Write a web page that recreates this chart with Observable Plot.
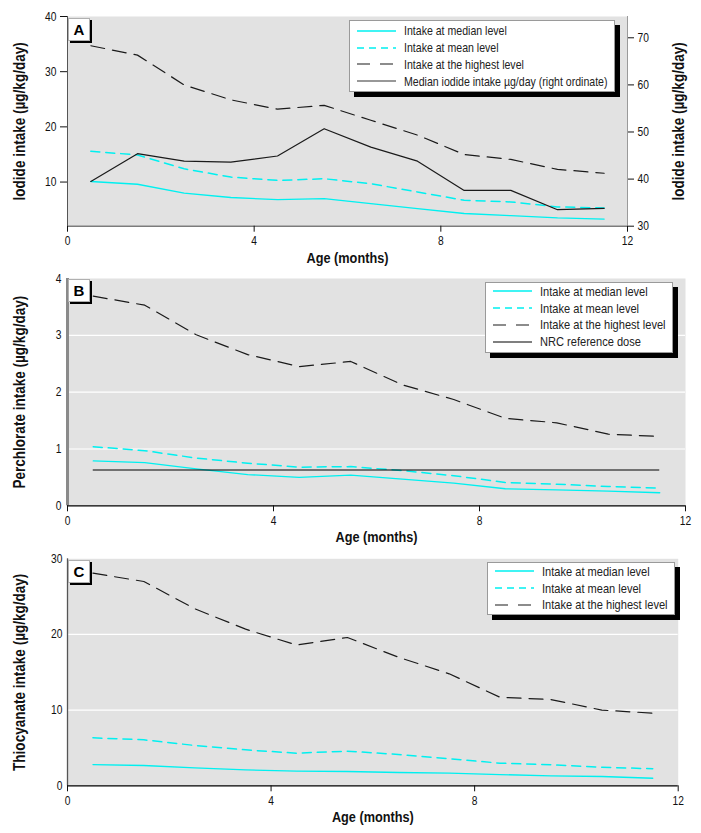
<!DOCTYPE html>
<html>
<head>
<meta charset="utf-8">
<script src="https://cdn.jsdelivr.net/npm/d3@7"></script>
<script src="https://cdn.jsdelivr.net/npm/@observablehq/plot@0.6"></script>
<style>
  body { margin: 0; background: #fff; }
  #chart { position: relative; width: 701px; height: 833px; overflow: hidden; }
  #chart svg.panel { position: absolute; left: 0; overflow: visible; }
  .legend { position: absolute; background: #fff; border: 1px solid #9a9a9a; box-shadow: 5px 5px 0 #000;
    font-size: 13.5px; color: #222; box-sizing: border-box; }
  .legend .row { display: flex; align-items: center; height: 16.8px; white-space: nowrap; }
  .legend .row svg { margin-left: 7px; margin-right: 8px; flex: none; }
  .legend .row span { display: inline-block; transform-origin: 0 50%; flex: none; }
  .tag { position: absolute; width: 22px; height: 23px; background: #fff; border: 1px solid #b0b0b0;
    box-shadow: 2px 2px 0 #000; font-weight: bold; font-size: 15px; display: flex; align-items: center;
    justify-content: center; box-sizing: border-box; color: #000; }
</style>
</head>
<body>
<div id="chart"></div>
<script>
// ---------- data ----------
const months = [0.5, 1.5, 2.5, 3.5, 4.5, 5.5, 6.5, 7.5, 8.5, 9.5, 10.5, 11.5];
const xTicks = [0, 4, 8, 12];

// Panel A: iodide (µg/kg/day, left ordinate) and µg/day (right ordinate)
const iodideMedian  = [10.1, 9.6, 8.0, 7.2, 6.8, 7.0, 6.1, 5.2, 4.3, 3.9, 3.5, 3.3];
const iodideMean    = [15.6, 14.9, 12.4, 10.9, 10.3, 10.6, 9.7, 8.2, 6.7, 6.4, 5.5, 5.3];
const iodideHighest = [34.7, 33.0, 27.6, 24.9, 23.2, 23.9, 21.2, 18.5, 15.0, 14.1, 12.3, 11.6];
const iodideDaily   = [39.5, 45.4, 43.8, 43.6, 44.9, 50.7, 46.8, 43.8, 37.6, 37.6, 33.5, 33.8];
const iodideLeftTicks  = [10, 20, 30, 40];
const iodideRightTicks = [30, 40, 50, 60, 70];

// Panel B: perchlorate (µg/kg/day)
const perchlorateMedian  = [0.79, 0.76, 0.65, 0.55, 0.50, 0.54, 0.47, 0.40, 0.30, 0.28, 0.26, 0.23];
const perchlorateMean    = [1.04, 0.97, 0.84, 0.75, 0.68, 0.69, 0.62, 0.53, 0.41, 0.38, 0.34, 0.31];
const perchlorateHighest = [3.69, 3.53, 3.01, 2.66, 2.45, 2.54, 2.13, 1.87, 1.54, 1.46, 1.26, 1.22];
const nrcDose = 0.63;
const perchlorateTicks = [0, 1, 2, 3, 4];
const perchlorateGrid = [1, 2, 3];

// Panel C: thiocyanate (µg/kg/day)
const thioMedian  = [2.81, 2.68, 2.38, 2.11, 1.93, 1.89, 1.76, 1.67, 1.49, 1.32, 1.23, 1.00];
const thioMean    = [6.34, 6.08, 5.33, 4.75, 4.31, 4.58, 4.14, 3.57, 2.99, 2.77, 2.46, 2.25];
const thioHighest = [28.1, 27.0, 23.4, 20.7, 18.6, 19.6, 17.0, 14.8, 11.7, 11.4, 10.0, 9.6];
const thioTicks = [0, 10, 20, 30];
const thioGrid = [10, 20];

const legendLabels = ["Intake at median level", "Intake at mean level", "Intake at the highest level"];

// ---------- font detection (condensed look) ----------
const probe = document.createElement("canvas").getContext("2d");
probe.font = "20px 'Liberation Sans Narrow', monospace";
const wNarrow = probe.measureText("Intake at median level").width;
probe.font = "20px monospace";
const wMono = probe.measureText("Intake at median level").width;
const hasNarrow = Math.abs(wNarrow - wMono) > 1;
const FONT = hasNarrow ? '"Liberation Sans Narrow", sans-serif' : '"Liberation Sans", Arial, sans-serif';
const SQUEEZE = hasNarrow ? 1 : 0.82;
document.getElementById("chart").style.fontFamily = FONT;

// ---------- styles ----------
const CYAN = "#00f0f0";
const BG = "#e2e2e2";
const sMedian  = {stroke: CYAN, strokeWidth: 1.3};
const sMean    = {stroke: CYAN, strokeWidth: 1.5, strokeDasharray: "9,6"};
const sHighest = {stroke: "#1a1a1a", strokeWidth: 1.2, strokeDasharray: "14,8"};
const sBlack   = {stroke: "#1a1a1a", strokeWidth: 1.2};

const table = arr => months.map((month, i) => ({month, value: arr[i]}));
const line = (arr, style, yf) => Plot.line(table(arr), {x: "month", y: yf || "value", ...style});

const chart = document.getElementById("chart");

function titles(ylabel) {
  return [
    Plot.text(["Age (months)"], {text: d => d, frameAnchor: "bottom", textAnchor: "middle", lineAnchor: "middle",
      dy: 31.5, fontWeight: "bold", fontSize: 15.5}),
    Plot.text([ylabel], {text: d => d, frameAnchor: "left", textAnchor: "middle", lineAnchor: "middle",
      rotate: -90, dx: -48, fontWeight: "bold", fontSize: 16.5})
  ];
}

function place(svg, top) {
  svg.classList.add("panel");
  svg.style.top = top + "px";
  chart.appendChild(svg);
  if (SQUEEZE !== 1) {
    svg.querySelectorAll("text").forEach(t => {
      const w = t.getComputedTextLength();
      if (w > 0) {
        t.setAttribute("textLength", (w * SQUEEZE).toFixed(2));
        t.setAttribute("lengthAdjust", "spacingAndGlyphs");
      }
    });
  }
}

const baseStyle = {fontFamily: FONT, fontSize: "12.5px", color: "#111", background: "transparent", overflow: "visible"};
const intFmt = d => String(Math.round(d));

// ---------- Panel A ----------
const aMin = 2, aMax = 40, rMin = 30, rMax = 74.52;
const toLeft = v => aMin + (v - rMin) * (aMax - aMin) / (rMax - rMin);
const fromLeft = v => rMin + (v - aMin) * (rMax - rMin) / (aMax - aMin);

const plotA = Plot.plot({
  width: 701, height: 270,
  marginTop: 16, marginBottom: 44.3, marginLeft: 67, marginRight: 74,
  style: baseStyle,
  x: {domain: [0, 12]},
  y: {domain: [aMin, aMax]},
  marks: [
    Plot.frame({fill: BG, stroke: "none"}),
    Plot.ruleX([0], {stroke: "#555"}),
    Plot.ruleX([12], {stroke: "#9a9a9a"}),
    Plot.ruleY([aMin], {stroke: "#444"}),
    line(iodideMedian, sMedian),
    line(iodideMean, sMean),
    line(iodideHighest, sHighest),
    line(iodideDaily, sBlack, d => toLeft(d.value)),
    Plot.axisX(xTicks, {tickSize: 6, tickPadding: 4, label: null, tickFormat: intFmt}),
    Plot.axisY(iodideLeftTicks, {tickSize: 7, tickPadding: 4, label: null, tickFormat: intFmt}),
    Plot.axisY(iodideRightTicks.map(toLeft), {anchor: "right", tickSize: 6, tickPadding: 4, label: null,
      tickFormat: d => Math.round(fromLeft(d))}),
    ...titles("Iodide intake (µg/kg/day)"),
    Plot.text(["Iodide intake (µg/kg/day)"], {text: d => d, frameAnchor: "right", textAnchor: "middle",
      lineAnchor: "middle", rotate: -90, dx: 51, fontWeight: "bold", fontSize: 16.5})
  ]
});
place(plotA, 0);

// ---------- Panel B ----------
const plotB = Plot.plot({
  width: 701, height: 280,
  marginTop: 8, marginBottom: 44.7, marginLeft: 67, marginRight: 16,
  style: baseStyle,
  x: {domain: [0, 12]},
  y: {domain: [0, 4]},
  marks: [
    Plot.frame({fill: BG, stroke: "none"}),
    Plot.ruleY(perchlorateGrid, {stroke: "#fff", strokeWidth: 1.2}),
    Plot.ruleX([0], {stroke: "#8a8a8a", strokeWidth: 3}),
    Plot.ruleY([0], {stroke: "#000", strokeWidth: 1.2}),
    line(perchlorateMedian, sMedian),
    line(perchlorateMean, sMean),
    line(perchlorateHighest, sHighest),
    Plot.ruleY([nrcDose], {x1: months[0], x2: months[months.length - 1], stroke: "#000", strokeWidth: 1.2}),
    Plot.axisX(xTicks, {tickSize: 6, tickPadding: 4, label: null, tickFormat: intFmt}),
    Plot.axisY(perchlorateTicks, {tickSize: 0, tickPadding: 6, label: null, tickFormat: intFmt}),
    ...titles("Perchlorate intake (µg/kg/day)")
  ]
});
place(plotB, 270);

// ---------- Panel C ----------
const plotC = Plot.plot({
  width: 701, height: 283,
  marginTop: 8.3, marginBottom: 47.7, marginLeft: 67, marginRight: 23.3,
  style: baseStyle,
  x: {domain: [0, 12]},
  y: {domain: [0, 30]},
  marks: [
    Plot.frame({fill: BG, stroke: "none"}),
    Plot.ruleY(thioGrid, {stroke: "#fff", strokeWidth: 1.2}),
    Plot.ruleX([0], {stroke: "#555", strokeWidth: 1.3}),
    Plot.ruleY([0], {stroke: "#000", strokeWidth: 1.2}),
    line(thioMedian, sMedian),
    line(thioMean, sMean),
    line(thioHighest, sHighest),
    Plot.axisX(xTicks, {tickSize: 6, tickPadding: 4, label: null, tickFormat: intFmt}),
    Plot.axisY(thioTicks, {tickSize: 0, tickPadding: 5, label: null, tickFormat: intFmt}),
    ...titles("Thiocyanate intake (µg/kg/day)")
  ]
});
place(plotC, 550);

// ---------- legends & panel tags ----------
function swatch(style) {
  const dash = style.dash ? `stroke-dasharray="${style.dash}"` : "";
  return `<svg width="39" height="6"><line x1="0" y1="3" x2="39" y2="3" stroke="${style.color}" stroke-width="${style.w}" ${dash}/></svg>`;
}
const legMedian  = {color: CYAN, w: 1.4};
const legMean    = {color: CYAN, w: 1.5, dash: "7,5"};
const legHighest = {color: "#1a1a1a", w: 1.2, dash: "13,10"};
const legBlack   = {color: "#333", w: 1.2};
const legNRC     = {color: "#000", w: 1.2};

function legend(left, top, width, height, rows, padTop, fontSize) {
  const div = document.createElement("div");
  div.className = "legend";
  Object.assign(div.style, {left: left + "px", top: top + "px", width: width + "px", height: height + "px",
    paddingTop: padTop + "px", fontSize: fontSize + "px"});
  div.innerHTML = rows.map(([s, label]) =>
    `<div class="row">${swatch(s)}<span style="transform:scaleX(${SQUEEZE})">${label}</span></div>`).join("");
  chart.appendChild(div);
}
legend(349, 20, 266, 72, [[legMedian, legendLabels[0]], [legMean, legendLabels[1]], [legHighest, legendLabels[2]],
  [legBlack, "Median iodide intake µg/day (right ordinate)"]], 1.5, 12.9);
legend(485, 282, 188, 71, [[legMedian, legendLabels[0]], [legMean, legendLabels[1]], [legHighest, legendLabels[2]],
  [legNRC, "NRC reference dose"]], 0, 13.5);
legend(487, 562, 188, 53, [[legMedian, legendLabels[0]], [legMean, legendLabels[1]], [legHighest, legendLabels[2]]], 0, 13.5);

function tag(letter, top) {
  const d = document.createElement("div");
  d.className = "tag";
  d.textContent = letter;
  d.style.left = "68px";
  d.style.top = top + "px";
  chart.appendChild(d);
}
tag("A", 18);
tag("B", 279);
tag("C", 560);
</script>
</body>
</html>
